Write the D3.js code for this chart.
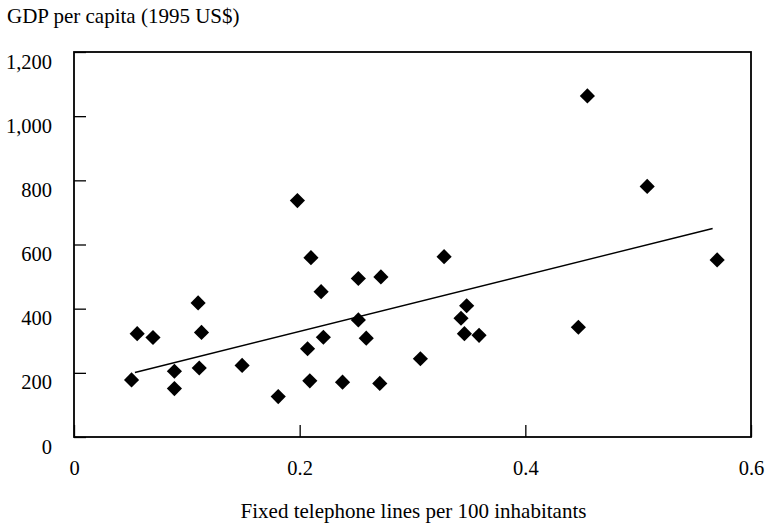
<!DOCTYPE html>
<html><head><meta charset="utf-8">
<script src="https://cdn.jsdelivr.net/npm/d3@7"></script>
<style>body{margin:0;background:#fff}svg{display:block}text{font-family:"Liberation Serif","Times New Roman",serif;fill:#000}</style>
</head><body><svg id="c" width="768" height="527"></svg>
<script>
const phoneLines = [0.051,0.056,0.070,0.089,0.089,0.110,0.113,0.111,0.149,0.181,0.198,0.210,0.219,0.221,0.207,0.209,0.238,0.252,0.272,0.252,0.259,0.271,0.455,0.508,0.570,0.328,0.348,0.343,0.346,0.359,0.447,0.307];
const gdpPerCapita = [178,322,310,205,151,418,326,215,223,126,737,559,453,311,275,175,171,494,499,365,308,167,1063,781,552,562,409,370,322,317,342,244];
const trendX = [0.054,0.566];
const trendY = [201,650];
const xTicks = [0,0.2,0.4,0.6];
const yTicks = [0,200,400,600,800,1000,1200];
const yTitle = "GDP per capita (1995 US$)";
const xTitle = "Fixed telephone lines per 100 inhabitants";

const FONT = "'Liberation Serif','Times New Roman',serif";
const svg = d3.select("#c");
const L=74, R=751, T=52, B=437;
const x = d3.scaleLinear().domain([0,0.6]).range([L,R]);
const y = d3.scaleLinear().domain([0,1200]).range([B,T]);

const gx = svg.append("g").attr("transform",`translate(0,${B})`)
  .call(d3.axisBottom(x).tickValues(xTicks).tickFormat(d=>d===0?"0":d3.format(".1f")(d)).tickSizeInner(-12).tickSizeOuter(0).tickPadding(23));
gx.select(".domain").remove();
gx.selectAll("line").attr("stroke","#000").attr("stroke-width",1.3);
gx.selectAll("text").attr("font-size",20.5).attr("font-family",FONT);

const gy = svg.append("g").attr("transform",`translate(${L},0)`)
  .call(d3.axisLeft(y).tickValues(yTicks).tickFormat(d3.format(",")).tickSizeInner(-12).tickSizeOuter(0).tickPadding(22));
gy.select(".domain").remove();
gy.selectAll("line").attr("stroke","#000").attr("stroke-width",1.3);
gy.selectAll("text").attr("font-size",20.5).attr("font-family",FONT).attr("transform","translate(0,9.5)");

svg.append("rect").attr("x",L).attr("y",T).attr("width",R-L).attr("height",B-T)
  .attr("fill","none").attr("stroke","#000").attr("stroke-width",1.8);

svg.append("line").attr("x1",x(trendX[0])).attr("y1",y(trendY[0])).attr("x2",x(trendX[1])).attr("y2",y(trendY[1]))
  .attr("stroke","#000").attr("stroke-width",1.4);

const sym = d3.symbol().type(d3.symbolSquare).size(115);
svg.append("g").selectAll("path").data(phoneLines.map((v,i)=>[v,gdpPerCapita[i]])).join("path")
  .attr("d",sym).attr("transform",d=>`translate(${x(d[0])},${y(d[1])}) rotate(45)`).attr("fill","#000");

svg.append("text").attr("x",7).attr("y",23).attr("font-size",21).attr("font-family",FONT).text(yTitle);
svg.append("text").attr("x",413.5).attr("y",518).attr("text-anchor","middle").attr("font-size",21).attr("font-family",FONT).text(xTitle);
</script></body></html>
